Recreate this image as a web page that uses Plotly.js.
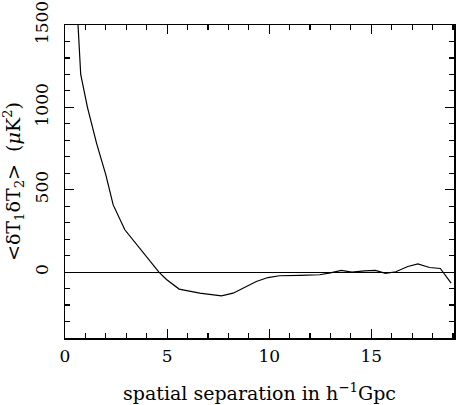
<!DOCTYPE html>
<html>
<head>
<meta charset="utf-8">
<script src="https://cdn.plot.ly/plotly-3.0.1.min.js"></script>
<style>html,body{margin:0;padding:0;background:#fff;}#chart{width:456px;height:405px;}</style>
</head>
<body>
<div id="chart"></div>
<script>
// separation in h^-1 Gpc
const separation = [0.2, 0.77, 1.1, 1.55, 2.0, 2.36, 2.93, 3.5, 4.0, 4.6, 4.97, 5.59, 6.6, 7.66, 8.23, 8.8, 9.37, 9.94, 10.5, 11.5, 12.47, 13.0, 13.53, 14.05, 14.67, 15.2, 15.7, 16.2, 16.79, 17.28, 17.85, 18.38, 18.91];
// correlation <dT1 dT2> in microK^2
const correlation = [2500, 1200, 1000, 780, 590, 408, 257, 170, 92, 0, -45, -103, -128, -144, -128, -90, -57, -33, -22, -20, -16, -5, 10, 0, 8, 10, -8, 2, 34, 50, 28, 22, -67];
const xTickVals = [0, 5, 10, 15];
const yTickVals = [0, 500, 1000, 1500];

const fam = 'DejaVu Serif, Liberation Serif, serif';
const tickFont = {family: fam, size: 17, color: '#000'};
const titleFont = {family: fam, size: 19, color: '#000'};

const trace = {
  x: separation, y: correlation, type: 'scatter', mode: 'lines',
  line: {color: '#000', width: 1.2}, hoverinfo: 'skip'
};

const layout = {
  width: 456, height: 405,
  margin: {l: 65, r: 2, t: 25, b: 67},
  paper_bgcolor: '#fff', plot_bgcolor: '#fff',
  showlegend: false,
  font: tickFont,
  xaxis: {
    range: [0, 19.05], tickvals: xTickVals, ticks: 'inside', ticklen: 9, tickwidth: 1.2, tickcolor: '#000',
    minor: {dtick: 1, tick0: 0, ticks: 'inside', ticklen: 5, tickwidth: 1.2, tickcolor: '#000', showgrid: false},
    showline: true, linecolor: '#000', linewidth: 1.5, mirror: 'allticks',
    showgrid: false, zeroline: false, tickfont: tickFont, ticklabelstandoff: 2,
    title: {text: 'spatial separation in h<sup>\u22121</sup>Gpc', font: titleFont, standoff: 22}
  },
  yaxis: {
    range: [-400, 1500], tickvals: yTickVals, ticks: 'inside', ticklen: 9, tickwidth: 1.2, tickcolor: '#000',
    minor: {dtick: 100, tick0: 0, ticks: 'inside', ticklen: 5, tickwidth: 1.2, tickcolor: '#000', showgrid: false},
    showline: true, linecolor: '#000', linewidth: 1.5, mirror: 'allticks',
    showgrid: false, zeroline: true, zerolinecolor: '#000', zerolinewidth: 1,
    tickangle: -90, tickfont: tickFont, ticklabelstandoff: 9,
    title: {text: '&lt;\u03b4T<sub>1</sub>\u03b4T<sub>2</sub>&gt;  (<i>\u03bc</i>K<sup>2</sup>)', font: titleFont, standoff: 6}
  }
};

Plotly.newPlot('chart', [trace], layout, {staticPlot: true, displayModeBar: false});
</script>
</body>
</html>
